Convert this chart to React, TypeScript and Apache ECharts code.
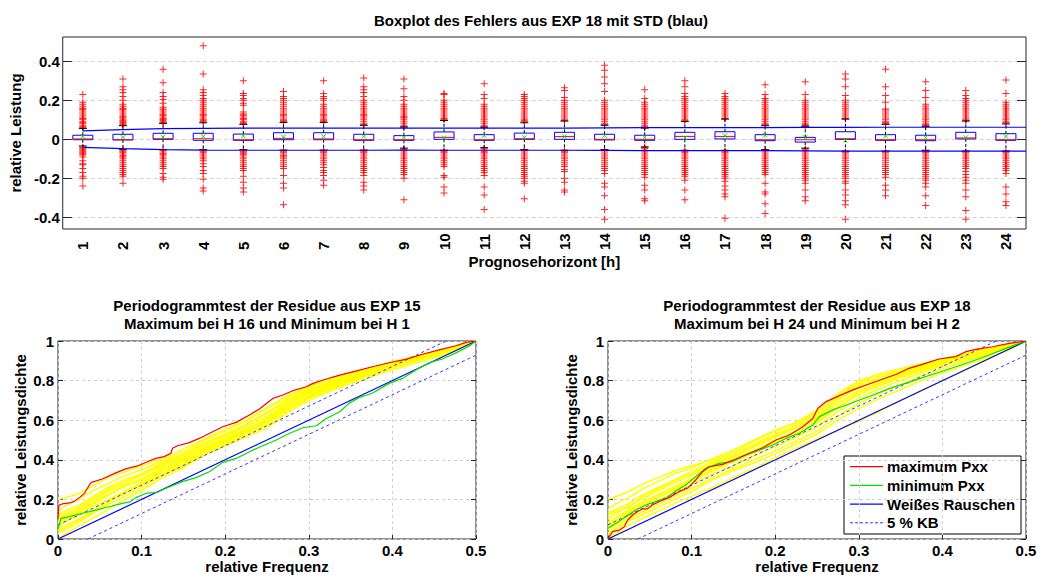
import React, { useEffect, useRef } from "react";
import * as echarts from "echarts";

// ---------- Top plot: boxplot data ----------
const horizons = ["1","2","3","4","5","6","7","8","9","10","11","12","13","14","15","16","17","18","19","20","21","22","23","24"];
const whiskerHigh = [0.056,0.07,0.082,0.085,0.077,0.087,0.087,0.072,0.063,0.097,0.062,0.085,0.094,0.072,0.058,0.092,0.104,0.07,0.067,0.104,0.077,0.067,0.094,0.079];
const quart3 = [0.021,0.026,0.031,0.031,0.027,0.034,0.034,0.026,0.019,0.038,0.024,0.032,0.036,0.026,0.021,0.036,0.039,0.024,0.01,0.039,0.024,0.021,0.036,0.029];
const medians = [0.002,-0.002,0.003,0.003,-0.002,0.005,0.002,-0.002,-0.002,0.01,-0.002,0.003,0.014,0,0,0.015,0.015,-0.002,-0.002,0.003,-0.002,-0.002,0.007,-0.002];
const quart1 = [-0.002,-0.003,0,-0.005,-0.005,-0.002,-0.002,-0.005,-0.005,0,-0.005,0,0,-0.003,-0.005,0,0.002,-0.007,-0.014,0,-0.005,-0.007,0.002,-0.005];
const whiskerLow = [-0.034,-0.051,-0.053,-0.053,-0.053,-0.055,-0.055,-0.055,-0.045,-0.056,-0.043,-0.053,-0.056,-0.053,-0.039,-0.056,-0.056,-0.053,-0.045,-0.06,-0.06,-0.056,-0.06,-0.06];
const means = [0.015,0.01,0.012,0.015,0.017,0.012,0.015,0.015,0.01,0.008,0.019,0.009,0.014,0.019,0.01,0.007,0.019,0.02,0.009,-0.005,0.017,0.009,0.009,0.015];

const outliersHigh = [
  [0.06,0.065,0.07,0.08,0.085,0.09,0.1,0.105,0.11,0.12,0.13,0.14,0.15,0.155,0.16,0.17,0.18,0.19,0.23],
  [0.075,0.08,0.085,0.09,0.095,0.1,0.11,0.115,0.12,0.13,0.14,0.15,0.155,0.16,0.17,0.18,0.2,0.22,0.24,0.255,0.27,0.31],
  [0.085,0.09,0.095,0.1,0.105,0.11,0.12,0.125,0.13,0.14,0.15,0.155,0.165,0.185,0.205,0.22,0.24,0.29,0.36],
  [0.09,0.095,0.1,0.11,0.12,0.125,0.13,0.14,0.15,0.16,0.17,0.18,0.19,0.2,0.21,0.225,0.24,0.255,0.335,0.48],
  [0.08,0.085,0.09,0.1,0.105,0.11,0.12,0.125,0.13,0.14,0.175,0.185,0.2,0.21,0.225,0.235,0.3],
  [0.09,0.095,0.1,0.11,0.12,0.125,0.13,0.14,0.15,0.16,0.17,0.18,0.19,0.2,0.21,0.22,0.245],
  [0.09,0.095,0.1,0.11,0.12,0.125,0.13,0.14,0.15,0.16,0.17,0.18,0.2,0.21,0.22,0.235,0.3],
  [0.075,0.08,0.09,0.1,0.11,0.12,0.125,0.13,0.14,0.15,0.16,0.17,0.18,0.19,0.2,0.22,0.24,0.255,0.27,0.315],
  [0.065,0.07,0.08,0.09,0.1,0.11,0.115,0.12,0.13,0.14,0.15,0.16,0.17,0.18,0.2,0.22,0.26,0.31],
  [0.1,0.105,0.11,0.12,0.13,0.14,0.15,0.16,0.17,0.18,0.19,0.2,0.23,0.235],
  [0.065,0.07,0.08,0.09,0.1,0.11,0.12,0.13,0.14,0.15,0.16,0.17,0.18,0.21,0.23,0.285],
  [0.09,0.095,0.1,0.11,0.12,0.13,0.14,0.15,0.16,0.17,0.18,0.19,0.2,0.21,0.22,0.23],
  [0.095,0.1,0.11,0.12,0.13,0.14,0.15,0.16,0.17,0.18,0.19,0.2,0.215,0.25,0.265],
  [0.075,0.08,0.09,0.1,0.11,0.12,0.13,0.14,0.15,0.16,0.17,0.18,0.19,0.2,0.245,0.285,0.32,0.355,0.38],
  [0.06,0.065,0.07,0.08,0.09,0.1,0.11,0.12,0.13,0.14,0.15,0.16,0.17,0.18,0.19,0.21,0.255],
  [0.095,0.1,0.11,0.12,0.13,0.14,0.15,0.16,0.17,0.18,0.19,0.2,0.21,0.22,0.235,0.27,0.3],
  [0.105,0.11,0.12,0.13,0.14,0.15,0.16,0.17,0.18,0.19,0.2,0.21,0.22,0.235],
  [0.075,0.08,0.09,0.1,0.11,0.12,0.13,0.14,0.15,0.16,0.17,0.18,0.19,0.2,0.21,0.23,0.28],
  [0.07,0.075,0.08,0.09,0.1,0.11,0.12,0.13,0.14,0.15,0.16,0.17,0.18,0.19,0.2,0.23,0.295],
  [0.105,0.11,0.12,0.13,0.14,0.15,0.16,0.17,0.18,0.19,0.2,0.225,0.27,0.31,0.335],
  [0.08,0.085,0.09,0.1,0.11,0.12,0.13,0.14,0.15,0.155,0.19,0.225,0.27,0.36],
  [0.07,0.075,0.08,0.09,0.1,0.11,0.12,0.13,0.14,0.15,0.16,0.17,0.18,0.215,0.25,0.295],
  [0.095,0.1,0.11,0.12,0.13,0.14,0.15,0.16,0.17,0.18,0.19,0.2,0.21,0.225,0.25],
  [0.085,0.09,0.1,0.11,0.12,0.13,0.14,0.15,0.16,0.17,0.18,0.19,0.235,0.305],
];
const outliersLow = [
  [-0.04,-0.045,-0.05,-0.055,-0.06,-0.065,-0.07,-0.075,-0.08,-0.09,-0.11,-0.125,-0.13,-0.15,-0.17,-0.19,-0.2,-0.24],
  [-0.055,-0.06,-0.065,-0.07,-0.08,-0.085,-0.09,-0.1,-0.11,-0.12,-0.13,-0.14,-0.15,-0.16,-0.17,-0.18,-0.19,-0.225],
  [-0.055,-0.06,-0.07,-0.075,-0.08,-0.09,-0.1,-0.11,-0.12,-0.13,-0.14,-0.15,-0.175,-0.195,-0.205],
  [-0.06,-0.065,-0.07,-0.08,-0.09,-0.1,-0.11,-0.125,-0.14,-0.16,-0.175,-0.205,-0.25,-0.265],
  [-0.06,-0.065,-0.07,-0.075,-0.08,-0.09,-0.1,-0.11,-0.12,-0.13,-0.14,-0.15,-0.16,-0.19,-0.22,-0.25,-0.27],
  [-0.06,-0.065,-0.07,-0.08,-0.085,-0.09,-0.1,-0.11,-0.12,-0.13,-0.14,-0.15,-0.185,-0.225,-0.25,-0.335],
  [-0.06,-0.065,-0.07,-0.08,-0.09,-0.1,-0.11,-0.12,-0.13,-0.145,-0.16,-0.17,-0.185,-0.21,-0.235],
  [-0.06,-0.065,-0.07,-0.08,-0.09,-0.1,-0.11,-0.12,-0.13,-0.14,-0.15,-0.16,-0.17,-0.185,-0.22,-0.24,-0.26],
  [-0.05,-0.055,-0.06,-0.07,-0.08,-0.09,-0.1,-0.11,-0.12,-0.13,-0.14,-0.15,-0.16,-0.17,-0.18,-0.2,-0.31],
  [-0.06,-0.065,-0.07,-0.08,-0.09,-0.1,-0.11,-0.12,-0.13,-0.14,-0.185,-0.195,-0.245,-0.275],
  [-0.045,-0.05,-0.06,-0.065,-0.07,-0.08,-0.09,-0.1,-0.11,-0.12,-0.13,-0.14,-0.15,-0.16,-0.17,-0.185,-0.245,-0.285,-0.36],
  [-0.055,-0.06,-0.07,-0.08,-0.09,-0.1,-0.11,-0.12,-0.13,-0.14,-0.15,-0.16,-0.17,-0.18,-0.19,-0.2,-0.215,-0.225,-0.305],
  [-0.06,-0.065,-0.07,-0.08,-0.09,-0.1,-0.11,-0.12,-0.13,-0.14,-0.155,-0.165,-0.2,-0.22,-0.26,-0.27],
  [-0.055,-0.06,-0.07,-0.08,-0.09,-0.1,-0.11,-0.12,-0.13,-0.14,-0.15,-0.16,-0.175,-0.225,-0.245,-0.29,-0.36,-0.41],
  [-0.04,-0.045,-0.05,-0.06,-0.07,-0.08,-0.09,-0.1,-0.11,-0.12,-0.13,-0.14,-0.15,-0.16,-0.17,-0.18,-0.195,-0.235,-0.26,-0.305,-0.315],
  [-0.06,-0.065,-0.07,-0.08,-0.09,-0.1,-0.11,-0.12,-0.13,-0.14,-0.15,-0.16,-0.17,-0.18,-0.19,-0.21,-0.26,-0.31],
  [-0.06,-0.065,-0.07,-0.08,-0.09,-0.1,-0.11,-0.12,-0.13,-0.14,-0.15,-0.16,-0.17,-0.18,-0.19,-0.2,-0.215,-0.24,-0.26,-0.28,-0.295,-0.405],
  [-0.055,-0.06,-0.07,-0.08,-0.09,-0.1,-0.11,-0.12,-0.13,-0.14,-0.15,-0.16,-0.17,-0.18,-0.225,-0.27,-0.28,-0.33,-0.38],
  [-0.05,-0.055,-0.06,-0.07,-0.08,-0.09,-0.1,-0.11,-0.12,-0.13,-0.14,-0.15,-0.16,-0.17,-0.18,-0.19,-0.2,-0.21,-0.225,-0.26,-0.295,-0.315],
  [-0.065,-0.07,-0.08,-0.09,-0.1,-0.11,-0.12,-0.13,-0.14,-0.15,-0.16,-0.17,-0.18,-0.19,-0.2,-0.215,-0.225,-0.26,-0.285,-0.315,-0.335,-0.41],
  [-0.065,-0.07,-0.08,-0.09,-0.1,-0.11,-0.12,-0.13,-0.14,-0.15,-0.16,-0.17,-0.18,-0.195,-0.235,-0.26,-0.29],
  [-0.06,-0.065,-0.07,-0.08,-0.09,-0.1,-0.11,-0.12,-0.13,-0.14,-0.15,-0.16,-0.17,-0.18,-0.19,-0.2,-0.21,-0.225,-0.245,-0.29,-0.34],
  [-0.065,-0.07,-0.08,-0.09,-0.1,-0.11,-0.12,-0.13,-0.14,-0.15,-0.165,-0.18,-0.195,-0.21,-0.225,-0.26,-0.295,-0.365,-0.41],
  [-0.065,-0.07,-0.08,-0.09,-0.1,-0.11,-0.12,-0.13,-0.14,-0.15,-0.16,-0.175,-0.245,-0.28,-0.32,-0.34],
];

// STD lines (x positions on horizon scale)
const stdX = [1,2,3,4,5,6,7,8,9,10,11,12,13,14,15,16,17,18,19,20,21,22,23,24,24.5];
const stdUpper = [0.043,0.05,0.055,0.056,0.057,0.058,0.058,0.058,0.057,0.057,0.057,0.057,0.058,0.059,0.06,0.06,0.06,0.06,0.061,0.061,0.062,0.062,0.062,0.062,0.062];
const stdLower = [-0.041,-0.048,-0.053,-0.055,-0.056,-0.056,-0.056,-0.056,-0.055,-0.056,-0.056,-0.056,-0.056,-0.057,-0.058,-0.058,-0.058,-0.058,-0.059,-0.06,-0.06,-0.06,-0.06,-0.06,-0.06];
const topTicks = [-0.4, -0.2, 0, 0.2, 0.4];

// ---------- Bottom plots ----------
const freqGrid = [0,0.01,0.025,0.04,0.06,0.08,0.1,0.125,0.15,0.175,0.2,0.225,0.25,0.275,0.3,0.325,0.35,0.375,0.4,0.425,0.45,0.475,0.5];

const yellowLeft = [
  [0.2,0.21,0.23,0.265,0.31,0.34,0.37,0.405,0.455,0.505,0.555,0.6,0.665,0.725,0.77,0.81,0.84,0.865,0.895,0.92,0.945,0.975,1],
  [0.14,0.17,0.2,0.24,0.28,0.32,0.35,0.395,0.44,0.5,0.545,0.595,0.66,0.72,0.765,0.805,0.835,0.862,0.89,0.918,0.943,0.973,1],
  [0.12,0.145,0.17,0.21,0.26,0.3,0.33,0.385,0.43,0.485,0.53,0.58,0.64,0.71,0.755,0.795,0.83,0.858,0.885,0.912,0.94,0.97,1],
  [0.1,0.12,0.15,0.19,0.24,0.28,0.32,0.37,0.415,0.47,0.52,0.565,0.62,0.69,0.745,0.785,0.82,0.85,0.88,0.908,0.935,0.967,1],
  [0.08,0.1,0.13,0.17,0.22,0.265,0.3,0.355,0.41,0.46,0.51,0.555,0.6,0.68,0.735,0.775,0.81,0.845,0.875,0.903,0.932,0.965,1],
  [0.06,0.09,0.12,0.16,0.2,0.24,0.29,0.345,0.395,0.45,0.5,0.545,0.59,0.67,0.725,0.77,0.805,0.84,0.87,0.9,0.93,0.962,1],
  [0.05,0.07,0.1,0.14,0.19,0.23,0.275,0.33,0.38,0.44,0.49,0.535,0.585,0.66,0.715,0.76,0.8,0.835,0.868,0.897,0.927,0.96,1],
  [0.03,0.05,0.085,0.125,0.175,0.215,0.26,0.32,0.37,0.43,0.48,0.53,0.575,0.65,0.71,0.755,0.795,0.83,0.865,0.895,0.925,0.958,1],
  [0,0.03,0.065,0.1,0.15,0.2,0.245,0.31,0.36,0.425,0.47,0.515,0.56,0.64,0.7,0.745,0.785,0.82,0.855,0.885,0.915,0.95,1],
  [0.09,0.11,0.14,0.18,0.225,0.27,0.305,0.36,0.4,0.455,0.505,0.55,0.61,0.685,0.74,0.78,0.815,0.848,0.878,0.905,0.934,0.966,1],
  [0.11,0.13,0.16,0.2,0.25,0.29,0.325,0.375,0.425,0.48,0.525,0.575,0.635,0.7,0.75,0.79,0.825,0.855,0.883,0.91,0.938,0.968,1],
  [0.04,0.06,0.095,0.135,0.185,0.235,0.28,0.34,0.385,0.445,0.495,0.54,0.595,0.665,0.72,0.765,0.8,0.838,0.866,0.898,0.928,0.96,1],
];
const yellowRight = [
  [0.2,0.215,0.24,0.275,0.31,0.345,0.37,0.4,0.44,0.495,0.545,0.585,0.64,0.735,0.8,0.835,0.86,0.885,0.91,0.935,0.96,0.98,1],
  [0.15,0.18,0.21,0.25,0.29,0.33,0.36,0.405,0.45,0.5,0.55,0.59,0.65,0.725,0.79,0.825,0.85,0.878,0.905,0.93,0.955,0.978,1],
  [0.13,0.15,0.18,0.22,0.26,0.3,0.34,0.39,0.43,0.48,0.53,0.575,0.63,0.715,0.78,0.815,0.845,0.872,0.9,0.926,0.952,0.976,1],
  [0.1,0.13,0.17,0.2,0.245,0.285,0.32,0.375,0.415,0.465,0.515,0.56,0.62,0.7,0.77,0.805,0.838,0.866,0.895,0.922,0.95,0.975,1],
  [0.08,0.11,0.15,0.185,0.225,0.265,0.305,0.36,0.405,0.45,0.5,0.545,0.6,0.685,0.75,0.79,0.826,0.86,0.89,0.918,0.946,0.972,1],
  [0.06,0.09,0.13,0.165,0.21,0.25,0.29,0.345,0.39,0.435,0.485,0.53,0.585,0.665,0.73,0.775,0.815,0.85,0.882,0.912,0.94,0.968,1],
  [0.05,0.075,0.115,0.15,0.195,0.235,0.275,0.33,0.37,0.42,0.465,0.515,0.565,0.645,0.71,0.76,0.8,0.84,0.875,0.905,0.935,0.965,1],
  [0.03,0.06,0.1,0.135,0.175,0.215,0.255,0.31,0.355,0.4,0.445,0.495,0.545,0.62,0.685,0.735,0.78,0.825,0.86,0.895,0.928,0.96,1],
  [0.02,0.05,0.09,0.12,0.16,0.2,0.24,0.3,0.345,0.385,0.43,0.48,0.53,0.6,0.66,0.71,0.755,0.8,0.84,0.875,0.91,0.945,1],
  [0,0.03,0.07,0.1,0.14,0.18,0.215,0.26,0.31,0.355,0.41,0.46,0.505,0.55,0.595,0.645,0.7,0.75,0.8,0.85,0.9,0.95,1],
  [0.12,0.14,0.16,0.21,0.255,0.295,0.33,0.38,0.42,0.47,0.52,0.565,0.61,0.705,0.765,0.8,0.835,0.865,0.893,0.92,0.948,0.974,1],
  [0.07,0.1,0.14,0.175,0.215,0.255,0.295,0.35,0.395,0.44,0.49,0.535,0.59,0.67,0.74,0.785,0.82,0.855,0.886,0.915,0.943,0.97,1],
];

const maxLeft = [[0,0.1],[0.001,0.17],[0.005,0.177],[0.0136,0.182],[0.0195,0.19],[0.0255,0.209],[0.0315,0.23],[0.0375,0.273],[0.04,0.286],[0.053,0.303],[0.067,0.33],[0.081,0.354],[0.095,0.369],[0.107,0.39],[0.117,0.407],[0.127,0.416],[0.135,0.433],[0.137,0.458],[0.143,0.471],[0.157,0.487],[0.169,0.508],[0.185,0.542],[0.197,0.567],[0.213,0.589],[0.229,0.626],[0.241,0.657],[0.247,0.677],[0.257,0.71],[0.269,0.727],[0.281,0.749],[0.297,0.769],[0.305,0.786],[0.317,0.803],[0.337,0.828],[0.356,0.848],[0.376,0.87],[0.396,0.89],[0.416,0.907],[0.436,0.933],[0.456,0.955],[0.476,0.976],[0.488,0.993],[0.5,1]];
const minLeft = [[0,0.05],[0.0036,0.104],[0.0136,0.113],[0.0295,0.13],[0.045,0.146],[0.061,0.163],[0.077,0.18],[0.087,0.189],[0.093,0.209],[0.105,0.23],[0.119,0.236],[0.129,0.256],[0.149,0.29],[0.165,0.31],[0.181,0.34],[0.197,0.387],[0.213,0.407],[0.229,0.441],[0.247,0.475],[0.261,0.5],[0.277,0.534],[0.293,0.562],[0.309,0.572],[0.321,0.609],[0.337,0.643],[0.348,0.685],[0.36,0.714],[0.376,0.736],[0.396,0.786],[0.412,0.811],[0.428,0.854],[0.444,0.89],[0.46,0.91],[0.476,0.94],[0.492,0.975],[0.5,1]];
const maxRight = [[0,0.003],[0.0056,0.037],[0.0136,0.045],[0.0195,0.062],[0.0235,0.096],[0.0295,0.121],[0.035,0.138],[0.041,0.152],[0.047,0.152],[0.053,0.172],[0.063,0.192],[0.073,0.209],[0.085,0.239],[0.095,0.256],[0.105,0.298],[0.113,0.34],[0.121,0.365],[0.137,0.377],[0.153,0.404],[0.169,0.433],[0.185,0.461],[0.201,0.5],[0.217,0.525],[0.233,0.567],[0.245,0.609],[0.251,0.66],[0.261,0.694],[0.277,0.724],[0.293,0.753],[0.309,0.778],[0.329,0.808],[0.345,0.832],[0.36,0.862],[0.376,0.882],[0.396,0.909],[0.416,0.921],[0.428,0.946],[0.44,0.958],[0.46,0.971],[0.48,0.988],[0.5,1]];
const minRight = [[0,0.054],[0.0096,0.079],[0.0215,0.113],[0.0335,0.146],[0.045,0.172],[0.057,0.189],[0.069,0.205],[0.081,0.242],[0.093,0.273],[0.105,0.315],[0.117,0.357],[0.133,0.382],[0.149,0.391],[0.165,0.424],[0.181,0.449],[0.197,0.475],[0.213,0.508],[0.229,0.534],[0.245,0.576],[0.253,0.618],[0.269,0.652],[0.285,0.677],[0.301,0.702],[0.317,0.727],[0.337,0.761],[0.356,0.786],[0.376,0.815],[0.396,0.842],[0.416,0.87],[0.436,0.899],[0.456,0.929],[0.476,0.963],[0.5,1]];
const whiteNoise = [[0,0],[0.5,1]];
const kbUpper = [[0,0.0715],[0.4643,1]];
const kbLower = [[0.0357,0],[0.5,0.9285]];

const titleTop = "Boxplot des Fehlers aus EXP 18 mit STD (blau)";
const titleLeft = "Periodogrammtest der Residue aus EXP 15\nMaximum bei H 16 und Minimum bei H 1";
const titleRight = "Periodogrammtest der Residue aus EXP 18\nMaximum bei H 24 und Minimum bei H 2";
const legendNames = ["maximum Pxx", "minimum Pxx", "Weißes Rauschen", "5 % KB"];
const legendColors = ["#ff0000", "#00e000", "#0000ff", "#3333ff"];

const FONT = '"Liberation Sans", Arial, Helvetica, sans-serif';
const FS = 15;
const TXT = { fontFamily: FONT, fontWeight: "bold" as const, fontSize: FS, color: "#000" };
const AXC = "#262626";
const PLUS = "path://M3,0H4V3H7V4H4V7H3V4H0V3H3Z";

function bottomAxes(grid: number, nameGap: number) {
  const x = {
    type: "value", gridIndex: grid, min: 0, max: 0.5, interval: 0.1,
    axisLine: { show: false },
    axisTick: { show: true, inside: true, length: 4, lineStyle: { color: AXC } },
    axisLabel: { ...TXT, margin: 4 },
    splitLine: { show: true, lineStyle: { color: "#cfcfcf", type: [3, 3], width: 1 } },
    name: "relative Frequenz", nameLocation: "middle", nameGap: 20, nameTextStyle: TXT,
  };
  const yl = {
    type: "value", gridIndex: grid, min: 0, max: 1, interval: 0.2,
    axisLine: { show: false },
    axisTick: { show: true, inside: true, length: 5, lineStyle: { color: AXC } },
    axisLabel: { ...TXT, margin: 4 },
    splitLine: { show: true, lineStyle: { color: "#cfcfcf", type: [3, 3], width: 1 } },
    name: "relative Leistungsdichte", nameLocation: "middle", nameGap, nameTextStyle: TXT,
  };
  const yr = {
    type: "value", gridIndex: grid, min: 0, max: 1, interval: 0.2, position: "right",
    axisLine: { show: false },
    axisTick: { show: true, inside: true, length: 5, lineStyle: { color: AXC } },
    axisLabel: { show: false }, splitLine: { show: false },
  };
  return { x, yl, yr };
}

function periodogramSeries(xi: number, yi: number, yellow: number[][], mx: number[][], mn: number[][]) {
  const out: any[] = [];
  yellow.forEach((curve, k) => {
    out.push({
      type: "line", name: "H" + k, xAxisIndex: xi, yAxisIndex: yi, symbol: "none", silent: true,
      data: curve.map((v, i) => [freqGrid[i], v]),
      lineStyle: { color: "#ffff00", width: 1.5 }, z: 2,
    });
  });
  out.push({ type: "line", name: legendNames[2], xAxisIndex: xi, yAxisIndex: yi, symbol: "none", silent: true, data: whiteNoise, lineStyle: { color: legendColors[2], width: 1.2 }, z: 3 });
  out.push({ type: "line", name: legendNames[3], xAxisIndex: xi, yAxisIndex: yi, symbol: "none", silent: true, data: kbUpper, lineStyle: { color: legendColors[3], width: 1, type: [3, 3] }, z: 3 });
  out.push({ type: "line", name: legendNames[3], xAxisIndex: xi, yAxisIndex: yi, symbol: "none", silent: true, data: kbLower, lineStyle: { color: legendColors[3], width: 1, type: [3, 3] }, z: 3 });
  out.push({ type: "line", name: legendNames[1], xAxisIndex: xi, yAxisIndex: yi, symbol: "none", silent: true, data: mn, lineStyle: { color: legendColors[1], width: 1.2 }, z: 4 });
  out.push({ type: "line", name: legendNames[0], xAxisIndex: xi, yAxisIndex: yi, symbol: "none", silent: true, data: mx, lineStyle: { color: legendColors[0], width: 1.2 }, z: 4 });
  return out;
}

function legendGraphic() {
  const left = 844, top = 456, w = 177, h = 78, rowH = 18.7, first = 466.7;
  const children: any[] = [
    { type: "rect", shape: { x: left, y: top, width: w, height: h }, style: { fill: "#fff", stroke: "#000", lineWidth: 1 } },
  ];
  legendNames.forEach((name, i) => {
    const y = first + i * rowH;
    children.push({
      type: "line", shape: { x1: left + 6, y1: y, x2: left + 39, y2: y },
      style: { stroke: legendColors[i], lineWidth: i === 3 ? 1 : 1.2, lineDash: i === 3 ? [3, 2] : null },
    });
    children.push({
      type: "text", x: left + 43, y,
      style: { text: name, fontFamily: FONT, fontWeight: "bold", fontSize: FS, fill: "#000", align: "left", verticalAlign: "middle" },
    });
  });
  return { type: "group", z: 100, children };
}

export default function App() {
  const ref = useRef<HTMLDivElement>(null);
  useEffect(() => {
    if (!ref.current) return;
    const chart = echarts.init(ref.current, null, { renderer: "svg" });

    const boxData = horizons.map((_, i) => [i, whiskerLow[i], quart1[i], medians[i], quart3[i], whiskerHigh[i], means[i]]);
    const outlierData: number[][] = [];
    horizons.forEach((_, i) => {
      outliersHigh[i].forEach((v) => outlierData.push([i, v]));
      outliersLow[i].forEach((v) => outlierData.push([i, v]));
    });

    const b1 = bottomAxes(1, 30);
    const b2 = bottomAxes(2, 29);

    const option: any = {
      animation: false,
      backgroundColor: "#fff",
      textStyle: { fontFamily: FONT },
      graphic: [
        { type: "text", x: 541, y: 20, style: { text: titleTop, fontFamily: FONT, fontWeight: "bold", fontSize: FS, fill: "#000", align: "center", verticalAlign: "middle" } },
        { type: "text", x: 267, y: 314, style: { text: titleLeft, fontFamily: FONT, fontWeight: "bold", fontSize: FS, lineHeight: 18, fill: "#000", align: "center", verticalAlign: "middle" } },
        { type: "text", x: 817, y: 314, style: { text: titleRight, fontFamily: FONT, fontWeight: "bold", fontSize: FS, lineHeight: 18, fill: "#000", align: "center", verticalAlign: "middle" } },
        legendGraphic(),
      ],
      grid: [
        { left: 58, top: 37, width: 968, height: 192, show: true, borderColor: AXC, borderWidth: 1, backgroundColor: "transparent" },
        { left: 58, top: 341, width: 418, height: 198, show: true, borderColor: AXC, borderWidth: 1, backgroundColor: "transparent" },
        { left: 608, top: 341, width: 418, height: 198, show: true, borderColor: AXC, borderWidth: 1, backgroundColor: "transparent" },
      ],
      xAxis: [
        {
          type: "category", gridIndex: 0, data: horizons, boundaryGap: true,
          axisLine: { show: false }, axisTick: { show: false },
          axisLabel: { ...TXT, rotate: 90, align: "left", verticalAlign: "middle", margin: 21, interval: 0 },
          splitLine: { show: false },
          name: "Prognosehorizont [h]", nameLocation: "middle", nameGap: 20, nameTextStyle: TXT,
        },
        { type: "value", gridIndex: 0, min: 0.5, max: 24.5, show: false },
        b1.x,
        b2.x,
      ],
      yAxis: [
        {
          type: "value", gridIndex: 0, min: -0.46, max: 0.525,
          axisLine: { show: false },
          axisTick: { show: true, inside: true, length: 9, customValues: topTicks, lineStyle: { color: AXC } },
          axisLabel: { ...TXT, margin: 3, customValues: topTicks },
          splitLine: { show: true, lineStyle: { color: "#d4d4d4", type: [4, 3], width: 1 } },
          name: "relative Leistung", nameLocation: "middle", nameGap: 32, nameTextStyle: TXT,
        },
        {
          type: "value", gridIndex: 0, min: -0.46, max: 0.525, position: "right",
          axisLine: { show: false },
          axisTick: { show: true, inside: true, length: 9, customValues: topTicks, lineStyle: { color: AXC } },
          axisLabel: { show: false, customValues: topTicks }, splitLine: { show: false },
        },
        b1.yl, b1.yr, b2.yl, b2.yr,
      ],
      series: [
        {
          type: "scatter", name: "outliers", xAxisIndex: 0, yAxisIndex: 0, silent: true,
          symbol: PLUS, symbolSize: 7, data: outlierData,
          itemStyle: { color: "#ff0000", opacity: 0.85 }, z: 2,
        },
        {
          type: "custom", name: "box", xAxisIndex: 0, yAxisIndex: 0, silent: true, z: 3,
          data: boxData,
          renderItem: (params: any, api: any) => {
            const idx = api.value(0);
            const x = api.coord([idx, 0])[0];
            const Y = (v: number) => api.coord([idx, v])[1];
            const lo = Y(api.value(1)), q1 = Y(api.value(2)), med = Y(api.value(3)), q3 = Y(api.value(4)), hi = Y(api.value(5)), mean = Y(api.value(6));
            const hw = 10, cw = 4, m = 2.2;
            return {
              type: "group",
              children: [
                { type: "line", shape: { x1: x, y1: q3, x2: x, y2: hi }, style: { stroke: "#000", lineWidth: 1, lineDash: [3, 2] } },
                { type: "line", shape: { x1: x, y1: q1, x2: x, y2: lo }, style: { stroke: "#000", lineWidth: 1, lineDash: [3, 2] } },
                { type: "line", shape: { x1: x - cw, y1: hi, x2: x + cw, y2: hi }, style: { stroke: "#000", lineWidth: 1 } },
                { type: "line", shape: { x1: x - cw, y1: lo, x2: x + cw, y2: lo }, style: { stroke: "#000", lineWidth: 1 } },
                { type: "rect", shape: { x: x - hw, y: q3, width: 2 * hw, height: q1 - q3 }, style: { stroke: "#0000ff", fill: "#fff", lineWidth: 1 } },
                { type: "line", shape: { x1: x - hw, y1: med, x2: x + hw, y2: med }, style: { stroke: "#ff0000", lineWidth: 1 } },
                { type: "line", shape: { x1: x - m, y1: mean - m, x2: x + m, y2: mean + m }, style: { stroke: "#00dd00", lineWidth: 1 } },
                { type: "line", shape: { x1: x - m, y1: mean + m, x2: x + m, y2: mean - m }, style: { stroke: "#00dd00", lineWidth: 1 } },
              ],
            };
          },
        },
        {
          type: "line", name: "std+", xAxisIndex: 1, yAxisIndex: 0, symbol: "none", silent: true, z: 4,
          data: stdX.map((x, i) => [x, stdUpper[i]]), lineStyle: { color: "#0000ff", width: 1.2 },
        },
        {
          type: "line", name: "std-", xAxisIndex: 1, yAxisIndex: 0, symbol: "none", silent: true, z: 4,
          data: stdX.map((x, i) => [x, stdLower[i]]), lineStyle: { color: "#0000ff", width: 1.2 },
        },
        ...periodogramSeries(2, 2, yellowLeft, maxLeft, minLeft),
        ...periodogramSeries(3, 4, yellowRight, maxRight, minRight),
      ],
    };
    chart.setOption(option);
    return () => chart.dispose();
  }, []);
  return <div ref={ref} style={{ position: "absolute", left: 0, top: 0, width: 1041, height: 578 }} />;
}
